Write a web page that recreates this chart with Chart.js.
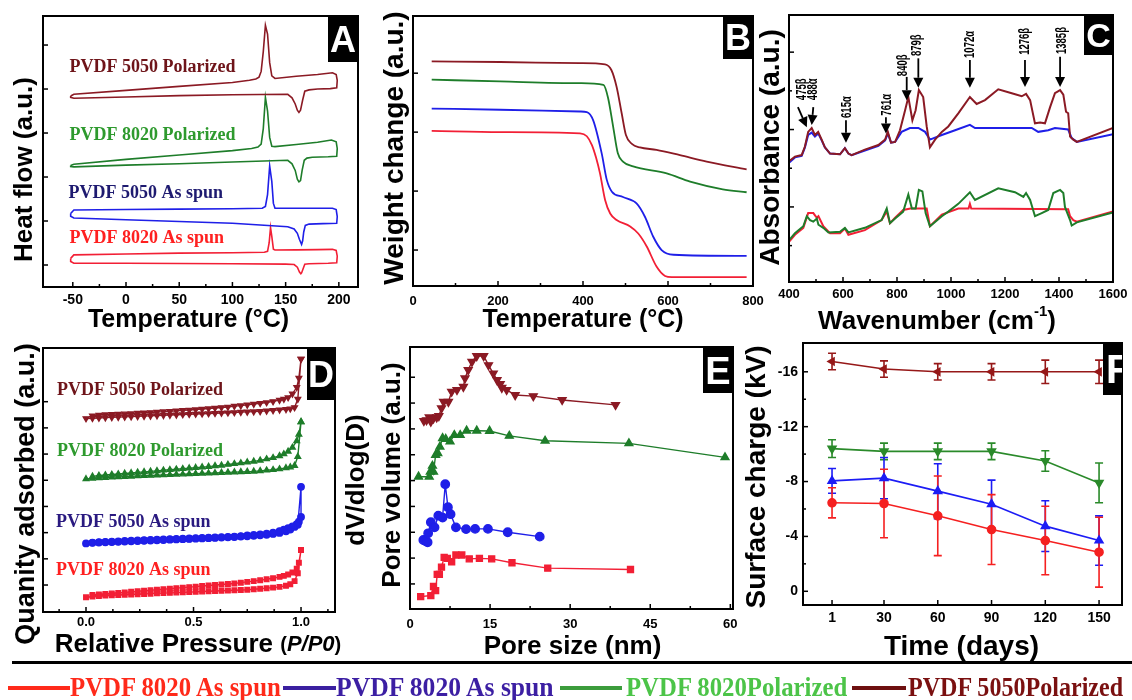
<!DOCTYPE html>
<html><head><meta charset="utf-8">
<script src="https://cdn.jsdelivr.net/npm/chart.js@4.4.1/dist/chart.umd.min.js"></script>
<style>
html,body{margin:0;padding:0;background:#fff;}
#wrap{position:relative;width:1132px;height:700px;overflow:hidden;background:#fff;}
canvas{position:absolute;left:0;top:0;}
.lg{position:absolute;white-space:nowrap;font-family:"Liberation Serif",serif;font-weight:bold;transform-origin:0 50%;line-height:27px;font-size:27px;}
.ln{position:absolute;}
</style></head><body>
<div id="wrap">
<canvas id="cA" width="1132" height="700"></canvas>
<canvas id="cB" width="1132" height="700"></canvas>
<canvas id="cC" width="1132" height="700"></canvas>
<canvas id="cD" width="1132" height="700"></canvas>
<canvas id="cE" width="1132" height="700"></canvas>
<canvas id="cF" width="1132" height="700"></canvas>
<div id="legend"></div>
</div>
<script>
// ---------------- DATA ----------------
// Panel A: DSC loops (temperature °C, heat flow a.u.)
const dscT_5050P = [-52,-49,0,50,100,116,122,125,127,129,131,133,135,137,140,160,180,194,197.5,198.5,198,192,180,172,168,166,164,162.5,161,159,156,152,100,50,0,-49,-52,-52];
const dscV_5050P = [4.84,4.88,4.97,5.06,5.15,5.20,5.23,5.27,5.40,5.85,6.45,6.25,5.60,5.30,5.24,5.29,5.33,5.37,5.33,5.20,5.03,5.01,5.00,4.98,4.95,4.75,4.52,4.47,4.52,4.66,4.80,4.88,4.87,4.85,4.82,4.79,4.81,4.84];
const dscT_8020P = [-52,-49,0,50,100,118,124,127,129,131,133,135,137,140,160,180,193,197.5,198.5,198,190,175,170,167.5,165.5,164,162.5,161,159,156,152,100,50,0,-49,-52,-52];
const dscV_8020P = [3.26,3.29,3.40,3.50,3.60,3.65,3.68,3.75,4.10,4.81,4.50,3.90,3.70,3.69,3.74,3.79,3.84,3.80,3.65,3.47,3.46,3.45,3.43,3.38,3.15,2.92,2.89,2.95,3.15,3.30,3.38,3.34,3.30,3.27,3.23,3.24,3.26];
const dscT_5050A = [-52,-49,0,50,100,128,131,133,135,137,138.5,140,160,180,194,197.5,198.5,198,185,172,168.5,167,166,165,163,161,158,152,100,50,0,-49,-52,-52];
const dscV_5050A = [2.17,2.25,2.26,2.27,2.28,2.29,2.33,2.60,3.25,2.90,2.40,2.29,2.29,2.29,2.29,2.26,2.10,1.95,1.94,1.93,1.90,1.75,1.55,1.47,1.58,1.72,1.82,1.87,1.95,1.99,2.03,2.07,2.11,2.17];
const dscT_8020A = [-52,-49,0,50,100,130,133,134.5,135.8,137,138.5,140,160,180,194,197.5,198.5,198,190,172,168,166.5,165,164.3,163,161,158,150,100,50,0,-49,-52,-52];
const dscV_8020A = [1.15,1.23,1.25,1.27,1.28,1.29,1.31,1.50,1.85,1.65,1.36,1.34,1.345,1.35,1.356,1.33,1.20,1.05,1.04,1.03,1.02,0.92,0.82,0.80,0.84,0.95,1.01,1.02,1.03,1.035,1.04,1.04,1.08,1.15];
const aXTicks = [-50,0,50,100,150,200];
const aXMinor = [-25,25,75,125,175];
const aYTicks = [1,2,3,4,5,6];

// Panel B: TGA (temperature °C, weight a.u.)
const tgaT_5050P = [44,205,393,452,467,479,491,501,515,534,573,628,691,785];
const tgaV_5050P = [4.20,4.19,4.17,4.15,4.05,3.77,3.32,2.95,2.80,2.74,2.70,2.61,2.50,2.37];
const tgaT_8020P = [44,205,393,448,459,471,482,494,518,597,652,729,785];
const tgaV_8020P = [3.89,3.86,3.83,3.80,3.58,3.09,2.64,2.50,2.42,2.30,2.16,2.03,1.98];
const tgaT_5050A = [44,205,393,409,424,444,456,468,494,526,546,565,585,613,785];
const tgaV_5050A = [3.40,3.38,3.35,3.34,3.20,2.64,2.19,1.99,1.90,1.79,1.56,1.23,1.00,0.92,0.90];
const tgaT_8020A = [44,205,393,409,421,431,440,452,464,479,511,530,550,573,593,609,785];
const tgaV_8020A = [3.02,3.00,2.98,2.93,2.78,2.56,2.30,1.85,1.62,1.51,1.40,1.28,1.06,0.72,0.56,0.54,0.54];
const bXTicks = [0,200,400,600,800];
const bXMinor = [100,300,500,700];
const bYTicks = [1,2,3,4];

// Panel C: FTIR (wavenumber cm-1, absorbance a.u.)
const irW_5050P = [400,422,447,459,471,484,496,508,521,533,552,589,607,620,632,681,731,756,766,778,793,811,830,842,857,869,881,897,910,922,941,966,990,1027,1070,1095,1126,1175,1225,1262,1278,1293,1311,1330,1348,1367,1385,1404,1416,1426,1434,1441,1453,1466,1600];
const irV_5050P = [1.59,1.65,1.67,1.78,1.97,2.02,1.93,1.97,1.87,1.77,1.69,1.68,1.76,1.69,1.67,1.74,1.80,1.87,1.97,1.83,1.84,1.99,2.25,2.42,2.12,2.25,2.51,2.42,2.04,1.77,1.87,1.97,2.04,2.21,2.42,2.33,2.38,2.52,2.47,2.43,2.46,2.38,2.08,2.09,2.08,2.29,2.47,2.51,2.45,2.23,2.21,1.91,1.87,1.84,2.02];
const irW_5050A = [400,422,447,459,471,484,496,508,521,533,552,589,607,620,632,681,731,756,766,778,793,817,848,879,904,922,966,1015,1070,1089,1299,1323,1360,1385,1434,1447,1466,1600];
const irV_5050A = [1.57,1.64,1.66,1.77,1.93,1.96,1.91,1.95,1.86,1.77,1.69,1.68,1.76,1.69,1.67,1.73,1.79,1.86,1.95,1.83,1.84,1.97,2.02,2.02,1.97,1.87,1.93,1.99,2.06,2.02,2.02,1.97,1.99,2.02,2.00,1.89,1.84,1.94];
const irW_8020P = [400,422,453,466,478,490,503,509,527,546,589,607,620,681,743,762,774,793,823,842,855,869,881,894,906,922,966,990,1027,1070,1089,1175,1237,1268,1278,1293,1311,1336,1360,1379,1404,1416,1422,1441,1447,1466,1600];
const irV_8020P = [0.57,0.66,0.75,0.88,0.83,0.81,0.85,0.77,0.73,0.67,0.68,0.73,0.67,0.73,0.83,0.98,0.79,0.85,0.94,1.16,0.98,0.98,1.22,1.20,0.92,0.75,0.88,0.94,1.04,1.19,1.09,1.24,1.19,1.13,1.18,1.09,0.88,0.92,0.96,1.18,1.22,1.18,1.00,0.83,0.76,0.80,0.93];
const irW_8020A = [400,422,453,471,490,503,509,527,552,589,607,620,681,743,762,774,793,823,850,910,922,966,1027,1065,1070,1075,1434,1441,1453,1466,1600];
const irV_8020A = [0.55,0.64,0.73,0.92,0.92,0.86,0.88,0.75,0.66,0.66,0.72,0.64,0.70,0.83,0.94,0.79,0.86,0.96,0.98,0.98,0.75,0.90,0.98,0.98,1.04,0.98,0.97,0.88,0.83,0.81,0.94];
const cXTicks = [400,600,800,1000,1200,1400,1600];
const cXMinor = [500,700,900,1100,1300,1500];
const cYTicks = [1,2,3];
const cYMinor = [0.5,1.5,2.5];
const irBands = ['475β','488α','615α','761α','840β','879β','1072α','1276β','1385β'];

// Panel D: N2 isotherms (relative pressure, quantity a.u.)
const adsP = [0,0.03,0.06,0.09,0.12,0.15,0.18,0.21,0.24,0.27,0.30,0.33,0.36,0.39,0.42,0.45,0.48,0.51,0.54,0.57,0.60,0.63,0.66,0.69,0.72,0.75,0.78,0.81,0.84,0.87,0.90,0.93,0.95,0.97,0.985,1.0];
const desP = [1.0,0.99,0.98,0.96,0.94,0.92,0.90,0.87,0.84,0.81,0.78,0.75,0.72,0.69,0.66,0.63,0.60,0.57,0.54,0.51,0.48,0.45,0.42,0.39,0.36,0.33,0.30,0.27,0.24,0.21,0.18,0.15,0.12,0.09,0.06,0.03];
const ads_5050P = [7.36,7.37,7.38,7.39,7.40,7.41,7.42,7.43,7.44,7.45,7.46,7.47,7.48,7.49,7.50,7.51,7.52,7.53,7.54,7.55,7.56,7.57,7.58,7.59,7.60,7.61,7.62,7.63,7.65,7.67,7.69,7.71,7.73,7.78,8.10,9.63];
const des_5050P = [9.63,8.90,8.55,8.30,8.16,8.10,8.06,8.01,7.97,7.94,7.91,7.88,7.85,7.83,7.80,7.78,7.76,7.74,7.72,7.70,7.68,7.67,7.65,7.63,7.62,7.60,7.59,7.58,7.57,7.55,7.54,7.53,7.52,7.51,7.49,7.46];
const ads_8020P = [5.05,5.07,5.09,5.10,5.12,5.13,5.14,5.15,5.16,5.17,5.18,5.19,5.20,5.21,5.22,5.23,5.24,5.25,5.26,5.27,5.28,5.29,5.30,5.31,5.32,5.33,5.34,5.36,5.38,5.40,5.43,5.47,5.50,5.56,5.90,7.23];
const des_8020P = [7.23,6.75,6.50,6.25,6.10,6.00,5.93,5.86,5.81,5.76,5.72,5.69,5.66,5.63,5.60,5.57,5.55,5.52,5.50,5.48,5.46,5.44,5.42,5.40,5.38,5.36,5.34,5.32,5.30,5.28,5.26,5.24,5.22,5.20,5.18,5.15];
const ads_5050A = [2.59,2.61,2.62,2.63,2.64,2.65,2.66,2.67,2.68,2.69,2.70,2.71,2.72,2.73,2.74,2.75,2.76,2.77,2.78,2.79,2.80,2.81,2.82,2.83,2.85,2.86,2.88,2.90,2.92,2.95,2.99,3.05,3.12,3.22,3.30,4.75];
const des_5050A = [3.60,3.42,3.32,3.24,3.17,3.11,3.06,3.00,2.96,2.93,2.91,2.89,2.87,2.85,2.84,2.83,2.82,2.81,2.80,2.79,2.78,2.77,2.76,2.75,2.74,2.73,2.72,2.71,2.70,2.69,2.68,2.67,2.66,2.65,2.64,2.62];
const ads_8020A = [0.53,0.56,0.58,0.60,0.61,0.62,0.63,0.64,0.65,0.66,0.67,0.68,0.69,0.70,0.71,0.72,0.73,0.74,0.75,0.76,0.77,0.78,0.79,0.80,0.81,0.82,0.84,0.86,0.88,0.90,0.93,0.97,1.03,1.15,1.45,2.34];
const des_8020A = [2.34,1.85,1.62,1.48,1.40,1.35,1.31,1.26,1.22,1.18,1.15,1.12,1.09,1.06,1.04,1.02,1.00,0.98,0.96,0.94,0.92,0.90,0.88,0.86,0.84,0.82,0.80,0.78,0.76,0.74,0.72,0.70,0.68,0.66,0.64,0.62];
const dXTicks = [0,0.5,1.0];
const dXLabels = ['0.0','0.5','1.0'];
const dXMinor = [-0.125,0.125,0.25,0.375,0.625,0.75,0.875,1.125];
const dYTicks = [1,2,3,4,5,6,7,8];

// Panel E: pore size distribution (nm, dV/dlog(D) a.u.)
const psdD_5050P = [2.6,3.1,3.6,3.9,4.4,5.0,5.4,5.9,6.3,7.2,7.8,8.8,10.0,10.3,10.9,11.6,12.5,13.8,14.7,15.6,16.3,16.9,17.2,18.1,19.7,23.1,28.5,38.5];
const psdV_5050P = [7.31,7.34,7.45,7.28,7.41,7.45,7.50,7.80,8.05,8.05,8.44,8.51,8.63,8.96,9.28,9.60,9.82,9.82,9.47,9.15,8.89,8.74,8.59,8.51,8.31,8.27,8.12,7.93];
const psdD_8020P = [1.6,3.6,3.8,4.2,4.4,4.8,5.2,5.6,6.1,6.7,7.5,8.3,9.4,10.6,12.5,14.9,18.6,25.3,41.0,59.0];
const psdV_8020P = [5.15,5.15,5.34,5.57,5.34,5.99,6.06,6.31,6.64,6.61,6.51,6.76,6.76,6.93,6.93,6.92,6.73,6.54,6.44,5.90];
const psdD_5050A = [2.5,2.9,3.3,3.4,3.9,4.6,5.3,6.1,6.6,7.1,7.6,8.6,10.5,12.2,14.6,18.3,24.3];
const psdV_5050A = [2.70,2.66,2.61,2.96,3.39,3.19,3.64,3.57,4.86,3.97,3.70,3.19,3.12,3.13,3.13,3.00,2.83];
const psdD_8020A = [2.0,3.9,4.4,4.8,5.1,5.5,5.9,6.4,7.0,7.8,8.6,9.7,11.1,13.0,15.3,19.1,25.8,41.3];
const psdV_8020A = [0.51,0.55,0.90,0.74,1.37,1.37,1.65,2.03,1.99,1.86,2.12,2.12,1.97,1.99,1.97,1.82,1.61,1.56];
const eXTicks = [0,15,30,45,60];
const eXMinor = [7.5,22.5,37.5,52.5];
const eYTicks = [1,2,3,4,5,6,7,8,9];

// Panel F: surface charge vs time
const days = [1,30,60,90,120,150];
const sc_5050P = [-16.75,-16.2,-16.0,-16.0,-16.0,-16.0];
const err_5050P = [0.6,0.6,0.6,0.6,0.85,0.85];
const sc_8020P = [-10.4,-10.2,-10.2,-10.2,-9.5,-7.9];
const err_8020P = [0.65,0.6,0.6,0.6,0.75,1.45];
const sc_blue = [-8.05,-8.25,-7.3,-6.35,-4.75,-3.7];
const err_blue = [0.9,1.5,2.0,1.75,1.85,1.8];
const sc_8020A = [-6.45,-6.4,-5.5,-4.5,-3.7,-2.85];
const err_8020A = [1.1,2.5,2.9,2.55,2.5,2.55];
const fYTicks = [-16,-12,-8,-4,0];
const fYMinor = [-14,-10,-6,-2];

const seriesNames = ['PVDF 5050 Polarized','PVDF 8020 Polarized','PVDF 5050 As spun','PVDF 8020 As spun'];
const legendNames = ['PVDF 8020 As spun','PVDF 8020 As spun','PVDF 8020Polarized','PVDF 5050Polarized'];

// ---------------- STYLE / LAYOUT ----------------
const COL = {maroon:'#8b1a24', green:'#1e7d2a', blue:'#1f1fe8', red:'#f21f35'};
const TXT = {maroon:'#6e1419', green:'#2e9a2e', navy:'#1e1a70', red:'#ff2020'};
const SANS = '"Liberation Sans", Arial, sans-serif';
const SERIF = '"Liberation Serif", "Times New Roman", serif';
const YW = 40, XH = 30;

function pts(xs, ys) { return xs.map((x, i) => ({x: x, y: ys[i]})); }

function axis(min, max, o) {
  return {
    type: 'linear', min: min, max: max, reverse: !!o.reverse,
    grid: {display: false, drawTicks: false}, border: {display: false}, title: {display: false},
    ticks: {display: !!o.show, autoSkip: false, maxRotation: 0, minRotation: 0,
      padding: o.pad == null ? 5 : o.pad, color: '#000',
      font: {family: SANS, weight: 'bold', size: o.fs || 13},
      callback: function(v, i) { return o.labels ? o.labels[i] : String(v); }},
    afterBuildTicks: function(s) { s.ticks = o.ticks.map(function(v){ return {value: v}; }); },
    afterFit: function(s) {
      if (s.isHorizontal()) s.height = XH; else s.width = YW;
      s.paddingLeft = 0; s.paddingRight = 0; s.paddingTop = 0; s.paddingBottom = 0;
    }
  };
}

function line(label, data, color, extra) {
  return Object.assign({label: label, data: data, showLine: true, borderColor: color, backgroundColor: color,
    borderWidth: 1.6, pointRadius: 0, pointHoverRadius: 0, tension: 0, fill: false}, extra || {});
}

function drawRich(ctx, parts, cx, cy, rot) {
  ctx.save(); ctx.translate(cx, cy); ctx.rotate(rot);
  let total = 0; const ws = [];
  parts.forEach(function(p){ ctx.font = p.font; const w = ctx.measureText(p.text).width; ws.push(w); total += w; });
  let x = -total / 2;
  ctx.textAlign = 'left'; ctx.textBaseline = 'middle'; ctx.fillStyle = '#000';
  parts.forEach(function(p, i){ ctx.font = p.font; ctx.fillText(p.text, x, p.dy || 0); x += ws[i]; });
  ctx.restore();
}

function makeDecor(cfg) {
  return {
    id: 'decor',
    beforeDatasetsDraw: function(chart) {
      const ctx = chart.ctx, xs = chart.scales.x, ys = chart.scales.y;
      chart.data.datasets.forEach(function(ds) {
        if (!ds.errorBars) return;
        ctx.save(); ctx.strokeStyle = ds.borderColor; ctx.lineWidth = 1.6;
        ds.data.forEach(function(p, j) {
          const e = ds.errorBars[j];
          const px = xs.getPixelForValue(p.x);
          const ya = ys.getPixelForValue(p.y - e), yb = ys.getPixelForValue(p.y + e);
          ctx.beginPath();
          ctx.moveTo(px, ya); ctx.lineTo(px, yb);
          ctx.moveTo(px - 4, ya); ctx.lineTo(px + 4, ya);
          ctx.moveTo(px - 4, yb); ctx.lineTo(px + 4, yb);
          ctx.stroke();
        });
        ctx.restore();
      });
    },
    afterDatasetsDraw: function(chart) {
      const ctx = chart.ctx, a = chart.chartArea, xs = chart.scales.x, ys = chart.scales.y;
      ctx.save();
      ctx.strokeStyle = '#000'; ctx.lineWidth = 1.5;
      const tx = function(vals, len) { (vals || []).forEach(function(v){ const p = xs.getPixelForValue(v); if (p < a.left + 1 || p > a.right - 1) return; ctx.beginPath(); ctx.moveTo(p, a.bottom); ctx.lineTo(p, a.bottom - len); ctx.stroke(); }); };
      const ty = function(vals, len) { (vals || []).forEach(function(v){ const p = ys.getPixelForValue(v); if (p < a.top + 1 || p > a.bottom - 1) return; ctx.beginPath(); ctx.moveTo(a.left, p); ctx.lineTo(a.left + len, p); ctx.stroke(); }); };
      tx(cfg.xMajor, 5); tx(cfg.xMinor, 3); ty(cfg.yMajor, 5); ty(cfg.yMinor, 3);
      ctx.lineWidth = 2;
      ctx.strokeRect(a.left, a.top, a.right - a.left, a.bottom - a.top);
      if (cfg.box) {
        const b = cfg.box, bx = a.right - b.w, by = a.top;
        ctx.fillStyle = '#000'; ctx.fillRect(bx, by, b.w, b.h);
        ctx.save(); ctx.beginPath(); ctx.rect(bx, by, b.w, b.h); ctx.clip();
        ctx.fillStyle = '#fff'; ctx.font = 'bold ' + b.size + 'px ' + SANS; ctx.textBaseline = 'alphabetic';
        if (b.left != null) { ctx.textAlign = 'left'; ctx.fillText(b.letter, bx + b.left, by + b.h / 2 + b.size * 0.36); }
        else { ctx.textAlign = 'center'; ctx.fillText(b.letter, bx + b.w / 2, by + b.h / 2 + b.size * 0.36); }
        ctx.restore();
      }
      (cfg.labels || []).forEach(function(l) {
        ctx.font = 'bold 18px ' + SERIF; ctx.fillStyle = l.color; ctx.textAlign = 'left'; ctx.textBaseline = 'middle';
        ctx.fillText(l.text, xs.getPixelForValue(l.x), ys.getPixelForValue(l.y));
      });
      (cfg.arrows || []).forEach(function(ar) {
        const x1 = xs.getPixelForValue(ar.x1), y1 = ys.getPixelForValue(ar.y1);
        const x2 = xs.getPixelForValue(ar.x2), y2 = ys.getPixelForValue(ar.y2);
        const ang = Math.atan2(y2 - y1, x2 - x1), hl = 10, hw = 5;
        const bx = x2 - hl * Math.cos(ang), by = y2 - hl * Math.sin(ang);
        ctx.strokeStyle = '#000'; ctx.fillStyle = '#000'; ctx.lineWidth = 1.8;
        ctx.beginPath(); ctx.moveTo(x1, y1); ctx.lineTo(bx, by); ctx.stroke();
        ctx.beginPath(); ctx.moveTo(x2, y2);
        ctx.lineTo(bx + hw * Math.sin(ang), by - hw * Math.cos(ang));
        ctx.lineTo(bx - hw * Math.sin(ang), by + hw * Math.cos(ang));
        ctx.closePath(); ctx.fill();
        const tpx = xs.getPixelForValue(ar.tx), tpy = ys.getPixelForValue(ar.ty);
        ctx.save(); ctx.translate(tpx, tpy); ctx.rotate(-Math.PI / 2); ctx.scale(0.68, 1);
        ctx.font = 'bold 14px ' + SANS; ctx.textAlign = 'center'; ctx.textBaseline = 'middle';
        ctx.fillText(ar.text, 0, 0);
        ctx.restore();
      });
      (cfg.titles || []).forEach(function(t) {
        if (t.axis === 'x') drawRich(ctx, t.parts, (a.left + a.right) / 2 + t.dx, a.bottom + t.dy, 0);
        else drawRich(ctx, t.parts, a.left + t.dx, (a.top + a.bottom) / 2 + t.dy, -Math.PI / 2);
      });
      ctx.restore();
    }
  };
}

function build(id, area, xAx, yAx, datasets, decor) {
  new Chart(document.getElementById(id), {
    type: 'scatter',
    data: {datasets: datasets},
    options: {
      responsive: false, animation: false, events: [], devicePixelRatio: 1,
      layout: {padding: {left: area.l - YW, top: area.t, right: 1132 - area.r, bottom: 700 - area.b - XH}},
      plugins: {legend: {display: false}, tooltip: {enabled: false}},
      scales: {x: xAx, y: yAx}
    },
    plugins: [makeDecor(decor)]
  });
}

function B(size) { return 'bold ' + size + 'px ' + SANS; }

// ---------------- PANEL A ----------------
build('cA', {l: 43, t: 16, r: 358, b: 287},
  axis(-78, 218, {ticks: aXTicks, show: true, fs: 14, pad: 5}),
  axis(0.5, 6.66, {ticks: aYTicks}),
  [
    line(seriesNames[0], pts(dscT_5050P, dscV_5050P), COL.maroon),
    line(seriesNames[1], pts(dscT_8020P, dscV_8020P), COL.green),
    line(seriesNames[2], pts(dscT_5050A, dscV_5050A), COL.blue),
    line(seriesNames[3], pts(dscT_8020A, dscV_8020A), COL.red)
  ],
  {xMajor: aXTicks, xMinor: aXMinor, yMajor: aYTicks, box: {w: 30, h: 46, letter: 'A', size: 36},
   labels: [
     {text: seriesNames[0], x: -53, y: 5.5, color: TXT.maroon},
     {text: seriesNames[1], x: -53, y: 3.95, color: TXT.green},
     {text: seriesNames[2], x: -54, y: 2.64, color: TXT.navy},
     {text: seriesNames[3], x: -53, y: 1.61, color: TXT.red}
   ],
   titles: [
     {axis: 'x', dx: -12, dy: 33, parts: [{text: 'Temperature (°C)', font: B(25)}]},
     {axis: 'y', dx: -18, dy: 18, parts: [{text: 'Heat flow (a.u.)', font: B(26)}]}
   ]});

// ---------------- PANEL B ----------------
build('cB', {l: 413, t: 16, r: 753, b: 286},
  axis(0, 800, {ticks: bXTicks, show: true, fs: 13, pad: 8}),
  axis(0.39, 4.97, {ticks: bYTicks}),
  [
    line(seriesNames[0], pts(tgaT_5050P, tgaV_5050P), COL.maroon, {cubicInterpolationMode: 'monotone', borderWidth: 1.8}),
    line(seriesNames[1], pts(tgaT_8020P, tgaV_8020P), COL.green, {cubicInterpolationMode: 'monotone', borderWidth: 1.8}),
    line(seriesNames[2], pts(tgaT_5050A, tgaV_5050A), COL.blue, {cubicInterpolationMode: 'monotone', borderWidth: 1.8}),
    line(seriesNames[3], pts(tgaT_8020A, tgaV_8020A), COL.red, {cubicInterpolationMode: 'monotone', borderWidth: 1.8})
  ],
  {xMajor: bXTicks, xMinor: bXMinor, yMajor: bYTicks, box: {w: 30, h: 43, letter: 'B', size: 36},
   titles: [
     {axis: 'x', dx: 0, dy: 34, parts: [{text: 'Temperature (°C)', font: B(25)}]},
     {axis: 'y', dx: -18, dy: -3, parts: [{text: 'Weight change (a.u.)', font: B(28)}]}
   ]});

// ---------------- PANEL C ----------------
build('cC', {l: 789, t: 15, r: 1113, b: 282},
  axis(400, 1600, {ticks: cXTicks, show: true, fs: 13, pad: 5}),
  axis(0.03, 3.48, {ticks: cYTicks}),
  [
    line(seriesNames[0], pts(irW_5050P, irV_5050P), COL.maroon, {borderWidth: 2}),
    line(seriesNames[2], pts(irW_5050A, irV_5050A), COL.blue, {borderWidth: 2}),
    line(seriesNames[1], pts(irW_8020P, irV_8020P), COL.green, {borderWidth: 2}),
    line(seriesNames[3], pts(irW_8020A, irV_8020A), COL.red, {borderWidth: 2})
  ],
  {xMajor: cXTicks, xMinor: cXMinor, yMajor: cYTicks, yMinor: cYMinor, box: {w: 29, h: 40, letter: 'C', size: 34},
   arrows: [
     {text: irBands[0], x1: 433, y1: 2.29, x2: 466, y2: 2.03, tx: 447, ty: 2.52},
     {text: irBands[1], x1: 490, y1: 2.29, x2: 484, y2: 2.06, tx: 490, ty: 2.52},
     {text: irBands[2], x1: 611, y1: 2.12, x2: 611, y2: 1.83, tx: 614, ty: 2.29},
     {text: irBands[3], x1: 759, y1: 2.16, x2: 759, y2: 1.95, tx: 762, ty: 2.32},
     {text: irBands[4], x1: 836, y1: 2.68, x2: 836, y2: 2.38, tx: 823, ty: 2.83},
     {text: irBands[5], x1: 879, y1: 2.92, x2: 879, y2: 2.54, tx: 873, ty: 3.09},
     {text: irBands[6], x1: 1070, y1: 2.90, x2: 1070, y2: 2.54, tx: 1070, ty: 3.10},
     {text: irBands[7], x1: 1274, y1: 2.90, x2: 1274, y2: 2.55, tx: 1274, ty: 3.14},
     {text: irBands[8], x1: 1404, y1: 2.94, x2: 1404, y2: 2.55, tx: 1410, ty: 3.15}
   ],
   titles: [
     {axis: 'x', dx: -14, dy: 40, parts: [{text: 'Wavenumber (cm', font: B(26)}, {text: '-1', font: B(15), dy: -10}, {text: ')', font: B(26)}]},
     {axis: 'y', dx: -18, dy: -1, parts: [{text: 'Absorbance (a.u.)', font: B(28)}]}
   ]});

// ---------------- PANEL D ----------------
const mk = {borderWidth: 1.4};
build('cD', {l: 43, t: 348, r: 335, b: 612},
  axis(-0.2, 1.158, {ticks: dXTicks, labels: dXLabels, show: true, fs: 13, pad: 3}),
  axis(-0.03, 10.05, {ticks: dYTicks}),
  [
    line(seriesNames[0], pts(adsP.concat(desP), ads_5050P.concat(des_5050P)), COL.maroon, Object.assign({pointRadius: 3.2, pointStyle: 'triangle', pointRotation: 180}, mk)),
    line(seriesNames[1], pts(adsP.concat(desP), ads_8020P.concat(des_8020P)), COL.green, Object.assign({pointRadius: 3.2, pointStyle: 'triangle'}, mk)),
    line(seriesNames[2], pts(adsP.concat(desP), ads_5050A.concat(des_5050A)), COL.blue, Object.assign({pointRadius: 3.2, pointStyle: 'circle'}, mk)),
    line(seriesNames[3], pts(adsP.concat(desP), ads_8020A.concat(des_8020A)), COL.red, Object.assign({pointRadius: 3.2, pointStyle: 'rect'}, mk))
  ],
  {xMajor: dXTicks, xMinor: dXMinor, yMajor: dYTicks, box: {w: 28, h: 52, letter: 'D', size: 36},
   labels: [
     {text: seriesNames[0], x: -0.135, y: 8.42, color: TXT.maroon},
     {text: seriesNames[1], x: -0.135, y: 6.09, color: TXT.green},
     {text: seriesNames[2], x: -0.14, y: 3.38, color: '#2a1a80'},
     {text: seriesNames[3], x: -0.14, y: 1.55, color: TXT.red}
   ],
   titles: [
     {axis: 'x', dx: 9, dy: 33, parts: [{text: 'Relative Pressure ', font: B(26)}, {text: '(', font: B(20)}, {text: 'P/P0', font: 'italic bold 22px ' + SANS}, {text: ')', font: B(20)}]},
     {axis: 'y', dx: -16, dy: 14, parts: [{text: 'Quanity adsorbed (a.u.)', font: B(27)}]}
   ]});

// ---------------- PANEL E ----------------
build('cE', {l: 410, t: 347, r: 733, b: 609},
  axis(0, 60.5, {ticks: eXTicks, show: true, fs: 13, pad: 8}),
  axis(0.03, 10.17, {ticks: eYTicks}),
  [
    line(seriesNames[0], pts(psdD_5050P, psdV_5050P), COL.maroon, {pointRadius: 4.5, pointStyle: 'triangle', pointRotation: 180, borderWidth: 1.4}),
    line(seriesNames[1], pts(psdD_8020P, psdV_8020P), COL.green, {pointRadius: 4.5, pointStyle: 'triangle', borderWidth: 1.4}),
    line(seriesNames[2], pts(psdD_5050A, psdV_5050A), COL.blue, {pointRadius: 4.2, pointStyle: 'circle', borderWidth: 1.4}),
    line(seriesNames[3], pts(psdD_8020A, psdV_8020A), COL.red, {pointRadius: 4.2, pointStyle: 'rect', borderWidth: 1.4})
  ],
  {xMajor: eXTicks, xMinor: eXMinor, yMajor: eYTicks, box: {w: 30, h: 46, letter: 'E', size: 38},
   titles: [
     {axis: 'x', dx: 1, dy: 38, parts: [{text: 'Pore size (nm)', font: B(26)}]},
     {axis: 'y', dx: -53, dy: 2, parts: [{text: 'dV/dlog(D)', font: B(26)}]},
     {axis: 'y', dx: -17, dy: -3, parts: [{text: 'Pore volume (a.u.)', font: B(26)}]}
   ]});

// ---------------- PANEL F ----------------
build('cF', {l: 803, t: 343, r: 1122, b: 605},
  axis(-15.2, 162.8, {ticks: days, show: true, fs: 14, pad: 5}),
  axis(-18.1, 1.0, {ticks: fYTicks, show: true, fs: 14, pad: 5, reverse: true}),
  [
    line(legendNames[3], pts(days, sc_5050P), '#961818', {errorBars: err_5050P, pointRadius: 4, pointStyle: 'triangle', pointRotation: -90, borderWidth: 1.6}),
    line(legendNames[2], pts(days, sc_8020P), '#2a8a2a', {errorBars: err_8020P, pointRadius: 4.5, pointStyle: 'triangle', pointRotation: 180, borderWidth: 1.6}),
    line(legendNames[1], pts(days, sc_blue), '#1c1cf5', {errorBars: err_blue, pointRadius: 4.5, pointStyle: 'triangle', borderWidth: 1.6}),
    line(legendNames[0], pts(days, sc_8020A), '#f52020', {errorBars: err_8020A, pointRadius: 4, pointStyle: 'circle', borderWidth: 1.6})
  ],
  {xMajor: days, yMajor: fYTicks, yMinor: fYMinor, box: {w: 19, h: 52, letter: 'F', size: 40, left: 3},
   titles: [
     {axis: 'x', dx: -1, dy: 42, parts: [{text: 'Time (days)', font: B(28)}]},
     {axis: 'y', dx: -46, dy: 3, parts: [{text: 'Surface charge (kV)', font: B(28)}]}
   ]});

// ---------------- BOTTOM LEGEND ----------------
(function() {
  const wrap = document.getElementById('wrap');
  const rule = document.createElement('div');
  rule.className = 'ln';
  rule.style.cssText = 'left:12px;top:661px;width:1120px;height:3px;background:#000;';
  wrap.appendChild(rule);
  const colors = [{t: '#ff2a1a', l: '#ff2a1a'}, {t: '#3c1fa3', l: '#3a1fa0'}, {t: '#4cc448', l: '#3c9c3c'}, {t: '#7a1010', l: '#6e1010'}];
  const lay = [{lx: 8, lw: 62, tx: 70, tw: 213}, {lx: 283, lw: 53, tx: 336, tw: 220}, {lx: 560, lw: 62, tx: 626, tw: 222}, {lx: 852, lw: 54, tx: 908, tw: 216}];
  const mctx = document.createElement('canvas').getContext('2d');
  mctx.font = 'bold 27px ' + SERIF;
  legendNames.forEach(function(name, i) {
    const ln = document.createElement('div');
    ln.className = 'ln';
    ln.style.cssText = 'left:' + lay[i].lx + 'px;top:686px;width:' + lay[i].lw + 'px;height:4px;background:' + colors[i].l + ';';
    wrap.appendChild(ln);
    const sp = document.createElement('div');
    sp.className = 'lg';
    sp.textContent = name;
    const w = mctx.measureText(name).width;
    sp.style.cssText = 'left:' + lay[i].tx + 'px;top:674px;color:' + colors[i].t + ';transform:scaleX(' + (lay[i].tw / w).toFixed(3) + ');';
    wrap.appendChild(sp);
  });
})();
</script>
</body></html>
